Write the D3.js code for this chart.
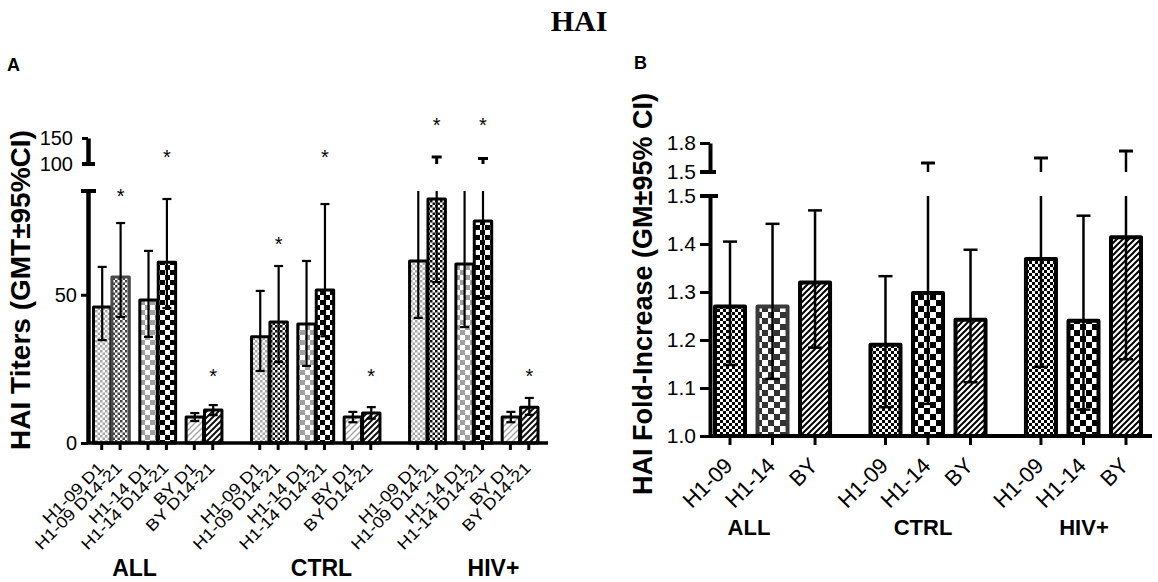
<!DOCTYPE html>
<html>
<head>
<meta charset="utf-8">
<script src="https://cdn.jsdelivr.net/npm/d3@7/dist/d3.min.js"></script>
<style>
  body { margin: 0; background: #fff; }
  text { font-family: Arial, "Liberation Sans", Helvetica, sans-serif; fill: #000; }
</style>
</head>
<body>
<svg id="chart" width="1158" height="582"></svg>
<script>
// ---------------- data ----------------
var groups = ["ALL", "CTRL", "HIV+"];

// panel A: HAI titers, GMT and 95% CI, values for ALL, CTRL, HIV+
var labelsA = ["H1-09 D1", "H1-09 D14-21", "H1-14 D1", "H1-14 D14-21", "BY D1", "BY D14-21"];
var gmtA = [
  [45.9, 35.8, 61.4],   // H1-09 D1
  [56.0, 40.8, 82.3],   // H1-09 D14-21
  [48.2, 40.1, 60.4],   // H1-14 D1
  [61.0, 51.6, 74.9],   // H1-14 D14-21
  [8.8, 8.8, 8.8],      // BY D1
  [11.1, 10.1, 12.1]    // BY D14-21
];
var ciLowA = [
  [34.7, 24.3, 42.2],
  [42.5, 27.3, 54.3],
  [35.8, 26.0, 39.1],
  [45.5, 36.0, 48.9],
  [7.4, 7.0, 7.0],
  [9.4, 8.2, 9.5]
];
var ciHighA = [
  [59.4, 51.3, 95],
  [74.2, 59.7, 113.5],
  [64.8, 61.4, 95],
  [82.3, 80.6, 110.6],
  [10.1, 10.5, 10.5],
  [12.8, 12.1, 15.2]
];
// significance stars (height in titer units, null = none)
var starsA = [
  [null, null, null],
  [84.7, 68.5, 108.6],
  [null, null, null],
  [97.8, 97.8, 108.6],
  [null, null, null],
  [24, 24, 24]
];

// panel B: HAI fold-increase, GM and 95% CI
var strainsB = ["H1-09", "H1-14", "BY"];
var gmB = [
  [1.270, 1.190, 1.369],
  [1.270, 1.298, 1.240],
  [1.320, 1.242, 1.414]
];
var ciLowB = [
  [1.148, 1.060, 1.144],
  [1.119, 1.067, 1.055],
  [1.184, 1.112, 1.160]
];
var ciHighB = [
  [1.405, 1.333, 1.645],
  [1.442, 1.593, 1.459],
  [1.470, 1.388, 1.717]
];

var ticksLoA = [0, 50], ticksHiA = [100, 150];
var ticksLoB = [1.0, 1.1, 1.2, 1.3, 1.4, 1.5], ticksHiB = [1.5, 1.8];

// ---------------- setup ----------------
var svg = d3.select("#chart");
var defs = svg.append("defs");

function checker(id, size, color) {
  var p = defs.append("pattern").attr("id", id)
    .attr("patternUnits", "userSpaceOnUse")
    .attr("width", size * 2).attr("height", size * 2);
  p.append("rect").attr("width", size * 2).attr("height", size * 2).attr("fill", "#fff");
  p.append("rect").attr("width", size).attr("height", size).attr("fill", color);
  p.append("rect").attr("x", size).attr("y", size).attr("width", size).attr("height", size).attr("fill", color);
}
function hatch(id, gap, color, w) {
  var p = defs.append("pattern").attr("id", id)
    .attr("patternUnits", "userSpaceOnUse")
    .attr("width", gap).attr("height", gap);
  p.append("rect").attr("width", gap).attr("height", gap).attr("fill", "#fff");
  p.append("path")
    .attr("d", "M0," + gap + "L" + gap + ",0M-2,2L2,-2M" + (gap - 2) + "," + (gap + 2) + "L" + (gap + 2) + "," + (gap - 2))
    .attr("stroke", color).attr("stroke-width", w);
}
checker("fineGray", 2.5, "#a8a8a8");
checker("fineBlack", 2.5, "#111");
checker("fineDark", 2.5, "#444");
checker("bigGray", 5, "#a0a0a0");
checker("bigBlack", 5, "#000");
hatch("hatchGray", 6, "#a8a8a8", 1.5);
hatch("hatchBlack", 6, "#111", 2);
checker("fineBlackB", 3, "#000");
checker("bigBlackB", 6, "#000");
checker("bigDarkB", 6, "#333");
hatch("hatchBlackB", 6, "#000", 2);

var fillA = ["fineGray", "fineBlack", "bigGray", "bigBlack", "hatchGray", "hatchBlack"];
var fillB = ["fineBlackB", "bigBlackB", "hatchBlackB"];

// "ALL" group has a few bars drawn in dark grey in the original
function styleA(s, g) {
  if (g === 0 && s === 1) return { fill: "fineDark", stroke: "#4a4a4a" };
  return { fill: fillA[s], stroke: "#000" };
}
function styleB(s, g) {
  if (g === 0 && s === 1) return { fill: "bigDarkB", stroke: "#3a3a3a" };
  return { fill: fillB[s], stroke: "#000" };
}

// ---------------- panel A ----------------
var axAx = 88, baseA = 443, breakA = 85;
var yLoA = d3.scaleLinear().domain([0, breakA]).range([baseA, 191]);
var yHiA = d3.scaleLinear().domain([100, 150]).range([164, 138]);

var xGroupA = d3.scaleBand().domain(groups).range([92.5, 538]).paddingInner(0.181);
var xPairA = d3.scaleBand().domain(d3.range(3)).range([0, xGroupA.bandwidth()]).paddingInner(0.205);
var xVisitA = d3.scaleBand().domain(d3.range(2)).range([0, xPairA.bandwidth()]);
function xA(s, g) { return xGroupA(groups[g]) + xPairA(Math.floor(s / 2)) + xVisitA(s % 2); }
var bwA = xVisitA.bandwidth();

var barsA = [];
gmtA.forEach(function(row, s) {
  row.forEach(function(v, g) {
    barsA.push({ s: s, g: g, v: v, lo: ciLowA[s][g], hi: ciHighA[s][g], star: starsA[s][g] });
  });
});

var gA = svg.append("g");
gA.selectAll("rect.bar").data(barsA).enter().append("rect")
  .attr("class", "bar")
  .attr("x", function(d) { return xA(d.s, d.g) + 1; })
  .attr("width", bwA - 1)
  .attr("y", function(d) { return yLoA(d.v); })
  .attr("height", function(d) { return baseA - yLoA(d.v); })
  .attr("fill", function(d) { return "url(#" + styleA(d.s, d.g).fill + ")"; })
  .attr("stroke", function(d) { return styleA(d.s, d.g).stroke; })
  .attr("stroke-width", 3)
  .attr("stroke-linejoin", "round");

var capA = 4.5;
barsA.forEach(function(d) {
  var cx = xA(d.s, d.g) + bwA / 2 + 0.5;
  var eb = gA.append("g").attr("stroke", "#000").attr("stroke-width", 2.2);
  eb.append("line").attr("x1", cx).attr("x2", cx).attr("y1", yLoA(d.v)).attr("y2", yLoA(d.lo));
  eb.append("line").attr("x1", cx - capA).attr("x2", cx + capA).attr("y1", yLoA(d.lo)).attr("y2", yLoA(d.lo));
  if (d.hi <= breakA) {
    eb.append("line").attr("x1", cx).attr("x2", cx).attr("y1", yLoA(d.v)).attr("y2", yLoA(d.hi));
    eb.append("line").attr("x1", cx - capA).attr("x2", cx + capA).attr("y1", yLoA(d.hi)).attr("y2", yLoA(d.hi));
  } else {
    eb.append("line").attr("x1", cx).attr("x2", cx).attr("y1", yLoA(d.v)).attr("y2", yLoA(breakA));
    if (d.hi >= 100) {
      eb.append("line").attr("x1", cx).attr("x2", cx).attr("y1", yHiA(100)).attr("y2", yHiA(d.hi)).attr("stroke-width", 3);
      eb.append("line").attr("x1", cx - 5).attr("x2", cx + 5).attr("y1", yHiA(d.hi)).attr("y2", yHiA(d.hi)).attr("stroke-width", 3);
    }
  }
  if (d.star !== null) {
    gA.append("text").attr("x", cx).attr("y", yLoA(d.star) + 11)
      .attr("text-anchor", "middle").style("font-size", "20px").text("*");
  }
});

// y axis A (broken)
var axLoA = gA.append("g").attr("transform", "translate(" + axAx + ",0)")
  .call(d3.axisLeft(yLoA).tickValues(ticksLoA).tickSize(7).tickSizeOuter(0).tickPadding(4));
var axHiA = gA.append("g").attr("transform", "translate(" + axAx + ",0)")
  .call(d3.axisLeft(yHiA).tickValues(ticksHiA).tickSize(6).tickSizeOuter(0).tickPadding(9));
[axLoA, axHiA].forEach(function(a) {
  a.select(".domain").attr("stroke-width", 4.5);
  a.selectAll(".tick line").attr("stroke-width", 3);
  a.selectAll(".tick text").style("font-size", "20px").style("font-family", "Arial, 'Liberation Sans', sans-serif").attr("fill", "#000");
});
gA.append("line").attr("x1", axAx - 7).attr("x2", axAx + 8).attr("y1", yLoA(breakA)).attr("y2", yLoA(breakA)).attr("stroke", "#000").attr("stroke-width", 4);
gA.append("line").attr("x1", axAx - 6).attr("x2", axAx + 7).attr("y1", yHiA(100)).attr("y2", yHiA(100)).attr("stroke", "#000").attr("stroke-width", 4);

// x axis A
gA.append("line").attr("x1", axAx).attr("x2", 548).attr("y1", baseA).attr("y2", baseA)
  .attr("stroke", "#000").attr("stroke-width", 3.5);
gA.selectAll("line.xt").data(barsA).enter().append("line")
  .attr("x1", function(d) { return xA(d.s, d.g) + bwA / 2; })
  .attr("x2", function(d) { return xA(d.s, d.g) + bwA / 2; })
  .attr("y1", baseA).attr("y2", baseA + 7)
  .attr("stroke", "#000").attr("stroke-width", 3);
// tick labels: slightly wide lettering, as in the original
gA.selectAll("text.xl").data(barsA).enter().append("text")
  .attr("transform", function(d) { return "translate(" + (xA(d.s, d.g) + bwA / 2 + 3) + "," + (baseA + 26) + ") rotate(-45) scale(1.15,1)"; })
  .attr("text-anchor", "end")
  .style("font-size", "16px")
  .text(function(d) { return labelsA[d.s]; });

var groupLabelA = [134.5, 321.5, 493.5];
gA.selectAll("text.gl").data(groups).enter().append("text")
  .attr("x", function(d, i) { return groupLabelA[i]; }).attr("y", 576)
  .attr("text-anchor", "middle").style("font-size", "23px").style("font-weight", "bold")
  .text(function(d) { return d; });

gA.append("text").attr("transform", "translate(30,290) rotate(-90)")
  .attr("text-anchor", "middle").style("font-size", "28px").style("font-weight", "bold")
  .text("HAI Titers (GMT\u00b195%CI)");
gA.append("text").attr("x", 7).attr("y", 71).style("font-size", "18px").style("font-weight", "bold").text("A");

// ---------------- panel B ----------------
var axBx = 710, baseB = 436, breakB = 1.5;
var yLoB = d3.scaleLinear().domain([1.0, breakB]).range([baseB, 196]);
var yHiB = d3.scaleLinear().domain([1.5, 1.8]).range([172, 143]);
var xGroupB = d3.scaleBand().domain(groups).range([715, 1141]).paddingInner(0.26);
var xStrainB = d3.scaleBand().domain(strainsB).range([0, xGroupB.bandwidth()]).paddingInner(0.294);
var bwB = xStrainB.bandwidth();
function xB(s, g) { return xGroupB(groups[g]) + xStrainB(strainsB[s]); }

var barsB = [];
gmB.forEach(function(row, s) {
  row.forEach(function(v, g) {
    barsB.push({ s: s, g: g, v: v, lo: ciLowB[s][g], hi: ciHighB[s][g] });
  });
});

var gB = svg.append("g");
gB.selectAll("rect.bar").data(barsB).enter().append("rect")
  .attr("x", function(d) { return xB(d.s, d.g); })
  .attr("width", bwB)
  .attr("y", function(d) { return yLoB(d.v); })
  .attr("height", function(d) { return baseB - yLoB(d.v); })
  .attr("fill", function(d) { return "url(#" + styleB(d.s, d.g).fill + ")"; })
  .attr("stroke", function(d) { return styleB(d.s, d.g).stroke; })
  .attr("stroke-width", 4)
  .attr("stroke-linejoin", "round");

var capB = 7;
barsB.forEach(function(d) {
  var cx = xB(d.s, d.g) + bwB / 2;
  var eb = gB.append("g").attr("stroke", "#000").attr("stroke-width", 2.5);
  eb.append("line").attr("x1", cx).attr("x2", cx).attr("y1", yLoB(d.v)).attr("y2", yLoB(d.lo));
  eb.append("line").attr("x1", cx - capB).attr("x2", cx + capB).attr("y1", yLoB(d.lo)).attr("y2", yLoB(d.lo));
  if (d.hi <= breakB) {
    eb.append("line").attr("x1", cx).attr("x2", cx).attr("y1", yLoB(d.v)).attr("y2", yLoB(d.hi));
    eb.append("line").attr("x1", cx - capB).attr("x2", cx + capB).attr("y1", yLoB(d.hi)).attr("y2", yLoB(d.hi));
  } else {
    eb.append("line").attr("x1", cx).attr("x2", cx).attr("y1", yLoB(d.v)).attr("y2", yLoB(breakB));
    eb.append("line").attr("x1", cx).attr("x2", cx).attr("y1", yHiB(1.5)).attr("y2", yHiB(d.hi));
    eb.append("line").attr("x1", cx - capB).attr("x2", cx + capB).attr("y1", yHiB(d.hi)).attr("y2", yHiB(d.hi)).attr("stroke-width", 3);
  }
});

var axLoB = gB.append("g").attr("transform", "translate(" + axBx + ",0)")
  .call(d3.axisLeft(yLoB).tickValues(ticksLoB).tickFormat(d3.format(".1f")).tickSize(10).tickSizeOuter(0).tickPadding(4));
var axHiB = gB.append("g").attr("transform", "translate(" + axBx + ",0)")
  .call(d3.axisLeft(yHiB).tickValues(ticksHiB).tickFormat(d3.format(".1f")).tickSize(10).tickSizeOuter(0).tickPadding(4));
[axLoB, axHiB].forEach(function(a) {
  a.select(".domain").attr("stroke-width", 4);
  a.selectAll(".tick line").attr("stroke-width", 3);
  a.selectAll(".tick text").style("font-size", "21px").style("font-family", "Arial, 'Liberation Sans', sans-serif").attr("fill", "#000");
});
gB.append("line").attr("x1", axBx - 10).attr("x2", axBx + 8).attr("y1", yLoB(breakB)).attr("y2", yLoB(breakB)).attr("stroke", "#000").attr("stroke-width", 4);
gB.append("line").attr("x1", axBx - 10).attr("x2", axBx + 6).attr("y1", yHiB(1.5)).attr("y2", yHiB(1.5)).attr("stroke", "#000").attr("stroke-width", 4);

gB.append("line").attr("x1", axBx).attr("x2", 1152).attr("y1", baseB).attr("y2", baseB)
  .attr("stroke", "#000").attr("stroke-width", 4);
gB.selectAll("line.xt").data(barsB).enter().append("line")
  .attr("x1", function(d) { return xB(d.s, d.g) + bwB / 2; })
  .attr("x2", function(d) { return xB(d.s, d.g) + bwB / 2; })
  .attr("y1", baseB).attr("y2", baseB + 9)
  .attr("stroke", "#000").attr("stroke-width", 3);
gB.selectAll("text.xl").data(barsB).enter().append("text")
  .attr("transform", function(d) { return "translate(" + (xB(d.s, d.g) + bwB / 2 + 4) + "," + (baseB + 31) + ") rotate(-45)"; })
  .attr("text-anchor", "end")
  .style("font-size", "22px")
  .text(function(d) { return strainsB[d.s]; });

var groupLabelB = [749, 923, 1084];
gB.selectAll("text.gl").data(groups).enter().append("text")
  .attr("x", function(d, i) { return groupLabelB[i]; }).attr("y", 535)
  .attr("text-anchor", "middle").style("font-size", "22px").style("font-weight", "bold")
  .text(function(d) { return d; });

gB.append("text").attr("transform", "translate(652,294) rotate(-90)")
  .attr("text-anchor", "middle").style("font-size", "27px").style("font-weight", "bold")
  .text("HAI Fold-Increase (GM\u00b195% CI)");
gB.append("text").attr("x", 634).attr("y", 69).style("font-size", "18px").style("font-weight", "bold").text("B");

// title
svg.append("text").attr("x", 579).attr("y", 31).attr("text-anchor", "middle")
  .style("font-family", "'Liberation Serif', 'Times New Roman', serif")
  .style("font-size", "30px").style("font-weight", "bold").text("HAI");
</script>
</body>
</html>
